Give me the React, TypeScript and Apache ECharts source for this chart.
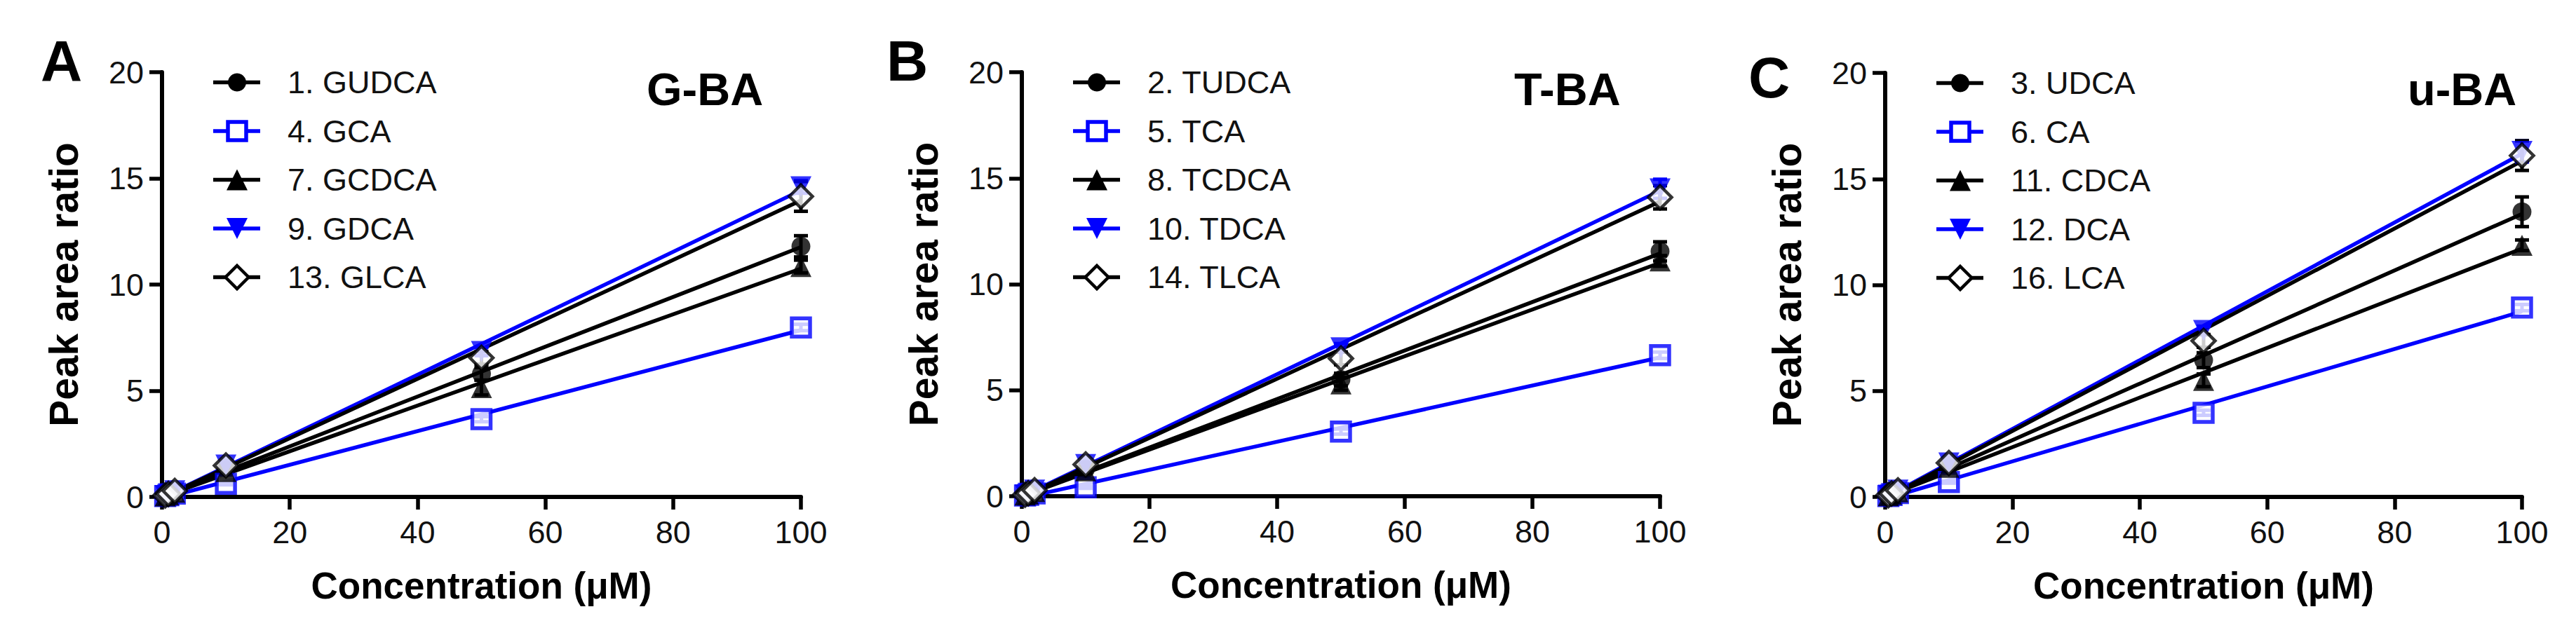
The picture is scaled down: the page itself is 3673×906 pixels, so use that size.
import React, { useEffect, useRef } from "react";
import * as echarts from "echarts";

// ---------------- data ----------------
const CONC = [0.5, 1, 2, 10, 50, 100];
const X_MIN = 0;
const X_MAX = 100;
const X_STEP = 20;
const Y_MIN = 0;
const Y_MAX = 20;
const Y_STEP = 5;

const PANEL_LETTERS = ["A", "B", "C"];
const PANEL_TITLES = ["G-BA", "T-BA", "u-BA"];
const X_NAME = "Concentration (μM)";
const Y_NAME = "Peak area ratio";

// Panel A (G-BA)
const A_NAMES = ["1. GUDCA", "4. GCA", "7. GCDCA", "9. GDCA", "13. GLCA"];
const A_GUDCA = [0.06, 0.12, 0.25, 1.35, 5.8, 11.8];
const A_GCA = [0.04, 0.08, 0.16, 0.62, 3.66, 7.98];
const A_GCDCA = [0.05, 0.11, 0.22, 1.2, 5.15, 10.85];
const A_GDCA = [0.07, 0.15, 0.29, 1.5, 6.85, 14.6];
const A_GLCA = [0.07, 0.14, 0.28, 1.48, 6.55, 14.15];
const A_GUDCA_ERR = [0.02, 0.03, 0.04, 0.1, 0.3, 0.5];
const A_GCA_ERR = [0.01, 0.02, 0.03, 0.05, 0.12, 0.15];
const A_GCDCA_ERR = [0.02, 0.03, 0.04, 0.1, 0.35, 0.3];
const A_GDCA_ERR = [0.02, 0.03, 0.04, 0.1, 0.2, 0.3];
const A_GLCA_ERR = [0.02, 0.03, 0.04, 0.1, 0.3, 0.7];

// Panel B (T-BA)
const B_NAMES = ["2. TUDCA", "5. TCA", "8. TCDCA", "10. TDCA", "14. TLCA"];
const B_TUDCA = [0.06, 0.12, 0.23, 1.3, 5.5, 11.55];
const B_TCA = [0.03, 0.07, 0.13, 0.42, 3.05, 6.65];
const B_TCDCA = [0.06, 0.11, 0.22, 1.2, 5.3, 11.1];
const B_TDCA = [0.07, 0.14, 0.29, 1.5, 7.0, 14.5];
const B_TLCA = [0.07, 0.14, 0.28, 1.5, 6.5, 14.1];
const B_TUDCA_ERR = [0.02, 0.03, 0.04, 0.1, 0.3, 0.45];
const B_TCA_ERR = [0.01, 0.02, 0.03, 0.05, 0.12, 0.15];
const B_TCDCA_ERR = [0.02, 0.03, 0.04, 0.1, 0.3, 0.25];
const B_TDCA_ERR = [0.02, 0.03, 0.04, 0.1, 0.2, 0.45];
const B_TLCA_ERR = [0.02, 0.03, 0.04, 0.1, 0.3, 0.55];

// Panel C (u-BA)
const C_NAMES = ["3. UDCA", "6. CA", "11. CDCA", "12. DCA", "16. LCA"];
const C_UDCA = [0.07, 0.13, 0.27, 1.5, 6.45, 13.45];
const C_CA = [0.04, 0.09, 0.18, 0.7, 3.97, 8.93];
const C_CDCA = [0.06, 0.12, 0.24, 1.4, 5.5, 11.87];
const C_DCA = [0.08, 0.16, 0.32, 1.6, 7.85, 16.3];
const C_LCA = [0.08, 0.16, 0.31, 1.6, 7.36, 16.1];
const C_UDCA_ERR = [0.02, 0.03, 0.04, 0.1, 0.35, 0.7];
const C_CA_ERR = [0.01, 0.02, 0.03, 0.05, 0.12, 0.15];
const C_CDCA_ERR = [0.02, 0.03, 0.04, 0.1, 0.3, 0.25];
const C_DCA_ERR = [0.02, 0.03, 0.04, 0.1, 0.2, 0.5];
const C_LCA_ERR = [0.02, 0.03, 0.04, 0.1, 0.3, 0.7];

const PANEL_VALUES = [
  [A_GUDCA, A_GCA, A_GCDCA, A_GDCA, A_GLCA],
  [B_TUDCA, B_TCA, B_TCDCA, B_TDCA, B_TLCA],
  [C_UDCA, C_CA, C_CDCA, C_DCA, C_LCA],
];
const PANEL_ERRORS = [
  [A_GUDCA_ERR, A_GCA_ERR, A_GCDCA_ERR, A_GDCA_ERR, A_GLCA_ERR],
  [B_TUDCA_ERR, B_TCA_ERR, B_TCDCA_ERR, B_TDCA_ERR, B_TLCA_ERR],
  [C_UDCA_ERR, C_CA_ERR, C_CDCA_ERR, C_DCA_ERR, C_LCA_ERR],
];
const PANEL_NAMES = [A_NAMES, B_NAMES, C_NAMES];

// ---------------- styles / layout ----------------
const BLACK = "#000000";
const BLUE = "#0000FF";
const FONT = '"Liberation Sans", Arial, Helvetica, sans-serif';

type MarkerKind = "circle" | "openSquare" | "triangle" | "triangleDown" | "openDiamond";
const SERIES_STYLE: { color: string; marker: MarkerKind }[] = [
  { color: BLACK, marker: "circle" },
  { color: BLUE, marker: "openSquare" },
  { color: BLACK, marker: "triangle" },
  { color: BLUE, marker: "triangleDown" },
  { color: BLACK, marker: "openDiamond" },
];

const GRIDS = [
  { left: 231, top: 103, width: 911, height: 606 },
  { left: 1457, top: 103, width: 910, height: 605 },
  { left: 2688, top: 104, width: 908, height: 605 },
];
const LETTER_POS = [
  { x: 58, y: 86 },
  { x: 1264, y: 86 },
  { x: 2493, y: 110 },
];
const TITLE_POS = [
  { x: 922, y: 127 },
  { x: 2159, y: 127 },
  { x: 3433, y: 127 },
];

function linearFit(xs: number[], ys: number[]) {
  const n = xs.length;
  let sx = 0, sy = 0;
  for (let i = 0; i < n; i++) { sx += xs[i]; sy += ys[i]; }
  const mx = sx / n, my = sy / n;
  let sxy = 0, sxx = 0;
  for (let i = 0; i < n; i++) {
    sxy += (xs[i] - mx) * (ys[i] - my);
    sxx += (xs[i] - mx) * (xs[i] - mx);
  }
  const slope = sxy / sxx;
  const intercept = my - slope * mx;
  return [
    [X_MIN, intercept],
    [X_MAX, intercept + slope * X_MAX],
  ];
}

function scatterSymbol(kind: MarkerKind, color: string) {
  switch (kind) {
    case "circle":
      return { symbol: "circle", symbolSize: 27, symbolRotate: 0, itemStyle: { color, borderWidth: 0 } };
    case "openSquare":
      return { symbol: "rect", symbolSize: 26, symbolRotate: 0, itemStyle: { color: "#ffffff", borderColor: color, borderWidth: 5.5 } };
    case "triangle":
      return { symbol: "triangle", symbolSize: 30, symbolRotate: 0, itemStyle: { color, borderWidth: 0 } };
    case "triangleDown":
      return { symbol: "triangle", symbolSize: 30, symbolRotate: 180, itemStyle: { color, borderWidth: 0 } };
    default:
      return { symbol: "diamond", symbolSize: 33, symbolRotate: 0, itemStyle: { color: "#ffffff", borderColor: color, borderWidth: 4.5 } };
  }
}

function legendMarker(kind: MarkerKind, color: string, cx: number, cy: number): any {
  switch (kind) {
    case "circle":
      return { type: "circle", shape: { cx, cy, r: 13 }, style: { fill: color } };
    case "openSquare":
      return { type: "rect", shape: { x: cx - 13, y: cy - 13, width: 26, height: 26 }, style: { fill: "#ffffff", stroke: color, lineWidth: 5.5 } };
    case "triangle":
      return { type: "polygon", shape: { points: [[cx, cy - 15], [cx + 15, cy + 15], [cx - 15, cy + 15]] }, style: { fill: color } };
    case "triangleDown":
      return { type: "polygon", shape: { points: [[cx, cy + 15], [cx + 15, cy - 15], [cx - 15, cy - 15]] }, style: { fill: color } };
    default:
      return { type: "polygon", shape: { points: [[cx, cy - 16.5], [cx + 16.5, cy], [cx, cy + 16.5], [cx - 16.5, cy]] }, style: { fill: "#ffffff", stroke: color, lineWidth: 4.5 } };
  }
}

function buildOption() {
  const grid: any[] = [];
  const xAxis: any[] = [];
  const yAxis: any[] = [];
  const series: any[] = [];
  const graphic: any[] = [];

  GRIDS.forEach((g, p) => {
    grid.push({ left: g.left, top: g.top, width: g.width, height: g.height, containLabel: false });
    const axisCommon = {
      gridIndex: p,
      type: "value",
      axisLine: { show: true, lineStyle: { color: BLACK, width: 6 } },
      axisTick: { show: true, inside: false, length: 18, lineStyle: { color: BLACK, width: 5.5 } },
      splitLine: { show: false },
    };
    xAxis.push({
      ...axisCommon,
      min: X_MIN,
      max: X_MAX,
      interval: X_STEP,
      axisLabel: { fontSize: 45, color: "#111", fontFamily: FONT, margin: 28 },
      name: X_NAME,
      nameLocation: "middle",
      nameGap: 100,
      nameTextStyle: { fontSize: 53, fontWeight: "bold", color: BLACK, fontFamily: FONT },
    });
    yAxis.push({
      ...axisCommon,
      min: Y_MIN,
      max: Y_MAX,
      interval: Y_STEP,
      axisLabel: { fontSize: 45, color: "#111", fontFamily: FONT, margin: 26 },
      name: Y_NAME,
      nameLocation: "middle",
      nameGap: 112,
      nameRotate: 90,
      nameTextStyle: { fontSize: 57, fontWeight: "bold", color: BLACK, fontFamily: FONT },
    });

    const names = PANEL_NAMES[p];
    PANEL_VALUES[p].forEach((vals, i) => {
      const st = SERIES_STYLE[i];
      const errs = PANEL_ERRORS[p][i];
      series.push({
        type: "line",
        name: names[i],
        xAxisIndex: p,
        yAxisIndex: p,
        data: linearFit(CONC, vals),
        symbol: "none",
        showSymbol: false,
        silent: true,
        lineStyle: { color: st.color, width: 5.5 },
        z: 2,
      });
      series.push({
        type: "custom",
        name: names[i] + " SD",
        xAxisIndex: p,
        yAxisIndex: p,
        silent: true,
        z: 3,
        encode: { x: 0, y: [1, 2] },
        data: CONC.map((x, k) => [x, vals[k] - errs[k], vals[k] + errs[k]]),
        renderItem: (params: any, api: any) => {
          const x = api.value(0);
          const hi = api.coord([x, api.value(2)]);
          const lo = api.coord([x, api.value(1)]);
          const w = 10;
          const style = { stroke: st.color, lineWidth: 5 };
          return {
            type: "group",
            children: [
              { type: "line", shape: { x1: hi[0], y1: hi[1], x2: lo[0], y2: lo[1] }, style },
              { type: "line", shape: { x1: hi[0] - w, y1: hi[1], x2: hi[0] + w, y2: hi[1] }, style },
              { type: "line", shape: { x1: lo[0] - w, y1: lo[1], x2: lo[0] + w, y2: lo[1] }, style },
            ],
          };
        },
      });
      series.push({
        type: "scatter",
        name: names[i],
        xAxisIndex: p,
        yAxisIndex: p,
        data: CONC.map((x, k) => [x, vals[k]]),
        ...scatterSymbol(st.marker, st.color),
        z: 4,
      });

      // legend row
      const cy = g.top + 14.5 + 69.5 * i;
      graphic.push({
        type: "line",
        shape: { x1: g.left + 73, y1: cy, x2: g.left + 140, y2: cy },
        style: { stroke: st.color, lineWidth: 5.5 },
        z: 10,
      });
      graphic.push({ ...legendMarker(st.marker, st.color, g.left + 107, cy), z: 11 });
      graphic.push({
        type: "text",
        x: g.left + 179,
        y: cy,
        z: 11,
        style: {
          text: names[i],
          fontSize: 45,
          fontFamily: FONT,
          fill: "#111",
          align: "left",
          verticalAlign: "middle",
        },
      });
    });

    graphic.push({
      type: "text",
      x: LETTER_POS[p].x,
      y: LETTER_POS[p].y,
      style: {
        text: PANEL_LETTERS[p],
        fontSize: 82,
        fontWeight: "bold",
        fontFamily: FONT,
        fill: BLACK,
        align: "left",
        verticalAlign: "middle",
      },
    });
    graphic.push({
      type: "text",
      x: TITLE_POS[p].x,
      y: TITLE_POS[p].y,
      style: {
        text: PANEL_TITLES[p],
        fontSize: 65,
        fontWeight: "bold",
        fontFamily: FONT,
        fill: BLACK,
        align: "left",
        verticalAlign: "middle",
      },
    });
  });

  return {
    animation: false,
    backgroundColor: "#ffffff",
    textStyle: { fontFamily: FONT },
    grid,
    xAxis,
    yAxis,
    series,
    graphic,
  };
}

export default function App() {
  const ref = useRef<HTMLDivElement>(null);
  useEffect(() => {
    document.body.style.margin = "0";
    if (!ref.current) return;
    const chart = echarts.init(ref.current, undefined, { renderer: "svg" });
    chart.setOption(buildOption() as any);
    return () => {
      chart.dispose();
    };
  }, []);
  return <div ref={ref} style={{ width: 3673, height: 906 }} />;
}
